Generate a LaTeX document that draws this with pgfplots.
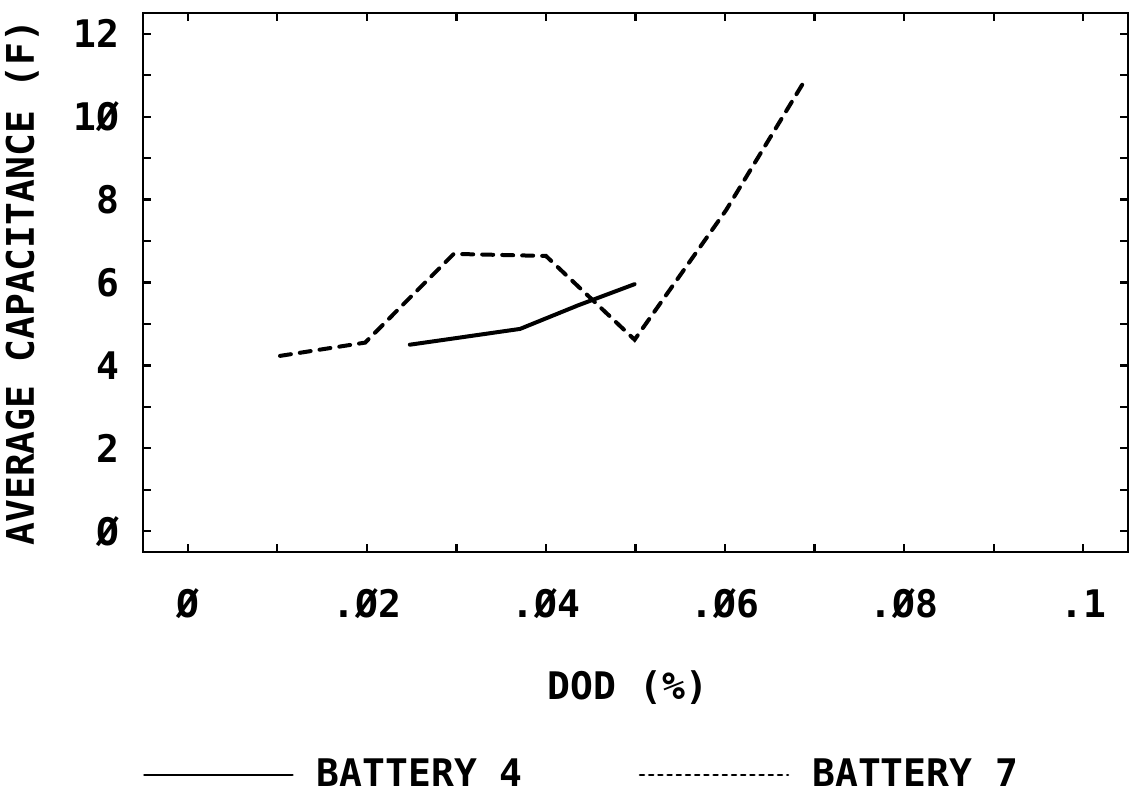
\documentclass[border=0pt]{standalone}
\usepackage{fontspec}
\setmainfont{DejaVu Sans Mono}
\usepackage{pgfplots}
\pgfplotsset{compat=1.18}
\begin{document}
\fontsize{19}{22}\selectfont\bfseries
\begin{tikzpicture}[font=\bfseries]
\begin{axis}[
  scale only axis,
  width=492.5pt, height=269.5pt,
  xmin=-0.005, xmax=0.105, ymin=-0.5, ymax=12.5,
  axis line style={line width=1.3pt},
  xtick={0,0.02,0.04,0.06,0.08,0.1},
  xticklabels={Ø,.Ø2,.Ø4,.Ø6,.Ø8,.1},
  minor xtick={0.01,0.03,0.05,0.07,0.09},
  ytick={0,2,4,6,8,10,12},
  yticklabels={Ø,2,4,6,8,1Ø,12},
  minor ytick={1,3,5,7,9,11},
  tick align=inside,
  major tick length=4pt, minor tick length=4pt,
  every tick/.style={black, line width=1.1pt},
  /pgf/number format/assume math mode=true,
  xticklabel style={anchor=center, inner sep=0pt, yshift=-26pt},
  yticklabel style={anchor=east, inner sep=0pt, xshift=-11.5pt},
  xlabel={DOD (\%)},
  ylabel={AVERAGE CAPACITANCE (F)},
  xlabel style={at={(axis description cs:0.4924,-0.2523)}, anchor=center, inner sep=0pt},
  ylabel style={at={(axis description cs:-0.1228,0.5)}, anchor=center, inner sep=0pt},
  legend columns=2,
  legend style={draw=none, fill=none, inner sep=0pt, outer sep=0pt,
    at={(axis description cs:0,-0.4137)}, anchor=west,
    nodes={inner sep=0pt},
    /tikz/every odd column/.append style={column sep=11.5pt},
    /tikz/every even column/.append style={column sep=58pt}},
  legend cell align=left,
  legend image code/.code={\draw[#1] (0pt,0pt) -- (74pt,0pt);},
]
\addplot[black, line width=2pt, line join=round, line cap=round,
  legend image post style={line width=1.4pt}]
  coordinates {(0.0248,4.50) (0.0371,4.88) (0.0436,5.45) (0.0499,5.96)};
\addlegendentry{BATTERY 4}
\addplot[black, line width=2pt, line cap=round, dash pattern=on 5.5pt off 4.5pt,
  legend image post style={line width=1.3pt, dash pattern=on 2pt off 2.6pt}]
  coordinates {(0.0103,4.23) (0.0198,4.55) (0.0297,6.69) (0.0400,6.64)
               (0.0499,4.62) (0.0601,7.74) (0.0687,10.80)};
\addlegendentry{BATTERY 7}
\coordinate (SW) at (rel axis cs:0,0);
\end{axis}
\pgfresetboundingbox
\path[use as bounding box] (SW) ++(-71.5pt,-123pt) rectangle ++(565pt,399pt);
\end{tikzpicture}
\end{document}
